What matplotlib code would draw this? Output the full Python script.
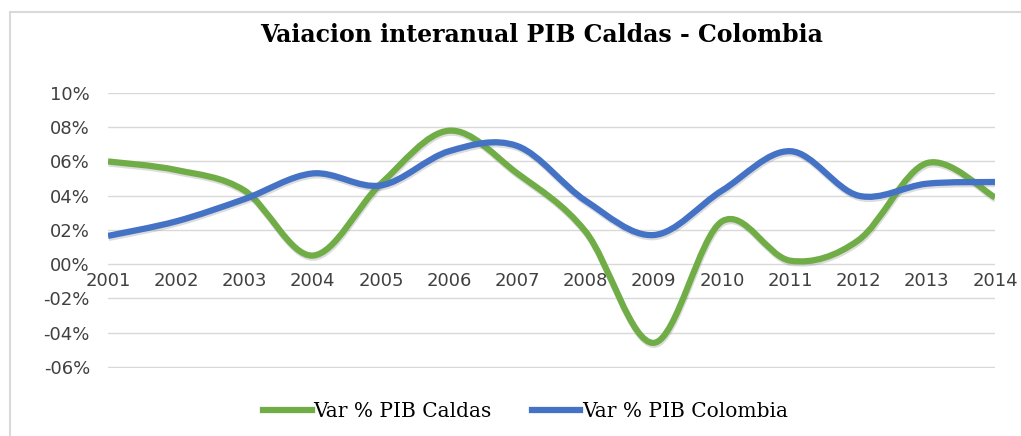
import matplotlib
matplotlib.use('Agg')
import matplotlib.pyplot as plt
from matplotlib.path import Path
from matplotlib.patches import PathPatch, Rectangle
from matplotlib.lines import Line2D
import matplotlib.patheffects as pe
from matplotlib.ticker import FuncFormatter

years = [2001, 2002, 2003, 2004, 2005, 2006, 2007, 2008, 2009, 2010, 2011, 2012, 2013, 2014]
caldas = [0.060, 0.055, 0.043, 0.005, 0.047, 0.078, 0.053, 0.019, -0.046, 0.025, 0.002, 0.014, 0.059, 0.039]
colombia = [0.0165, 0.025, 0.038, 0.053, 0.046, 0.066, 0.069, 0.037, 0.017, 0.043, 0.066, 0.040, 0.047, 0.048]
yticks = [-0.06, -0.04, -0.02, 0.0, 0.02, 0.04, 0.06, 0.08, 0.10]

GREEN = '#70AD47'
BLUE = '#4472C4'


def smooth_path(xs, ys):
    # excel-like smoothed line: cubic bezier segments
    pts = list(zip(xs, ys))
    n = len(pts)
    verts = [pts[0]]
    codes = [Path.MOVETO]
    for i in range(n - 1):
        p0 = pts[max(i - 1, 0)]
        p1 = pts[i]
        p2 = pts[i + 1]
        p3 = pts[min(i + 2, n - 1)]
        c1 = (p1[0] + (p2[0] - p0[0]) / 6, p1[1] + (p2[1] - p0[1]) / 6)
        c2 = (p2[0] - (p3[0] - p1[0]) / 6, p2[1] - (p3[1] - p1[1]) / 6)
        verts += [c1, c2, p2]
        codes += [Path.CURVE4] * 3
    return Path(verts, codes)


fig = plt.figure(figsize=(10.21, 4.36), dpi=100)
ax = fig.add_axes([108 / 1021, 1 - 368 / 436, (995 - 108) / 1021, (368 - 93) / 436])

fig.patches.append(Rectangle((10 / 1021, -0.1), 1.2, 1.0725, transform=fig.transFigure,
                             fill=False, edgecolor='#d9d9d9', lw=1.5))

for yv in yticks:
    ax.axhline(yv, color='#d9d9d9', lw=1, zorder=0)

for vals, col in [(caldas, GREEN), (colombia, BLUE)]:
    patch = PathPatch(smooth_path(years, vals), facecolor='none', edgecolor=col, lw=4.5,
                      capstyle='butt', zorder=3)
    patch.set_path_effects([pe.SimpleLineShadow(offset=(0.5, -1.5), shadow_color='#777777', alpha=0.25),
                            pe.Normal()])
    ax.add_patch(patch)

ax.set_xlim(2001, 2014)
ax.set_ylim(-0.0607, 0.10)
ax.set_yticks(yticks)
ax.yaxis.set_major_formatter(FuncFormatter(lambda v, p: ('-' if v < -1e-9 else '') + '%02d%%' % round(abs(v) * 100)))
ax.set_xticks(years)
ax.set_xticklabels([str(y) for y in years])
ax.patch.set_visible(False)

for s in ['top', 'right', 'left']:
    ax.spines[s].set_visible(False)
ax.spines['bottom'].set_position(('data', 0))
ax.spines['bottom'].set_visible(False)
ax.tick_params(axis='both', length=0, labelsize=13, labelcolor='#404040')
ax.tick_params(axis='y', pad=13)
ax.tick_params(axis='x', pad=6)

fig.text(0.53, 0.92, 'Vaiacion interanual PIB Caldas - Colombia', ha='center', va='center',
         fontsize=17, fontweight='bold', family='DejaVu Serif')

handles = [Line2D([], [], color=GREEN, lw=4.5), Line2D([], [], color=BLUE, lw=4.5)]
fig.legend(handles, ['Var % PIB Caldas', 'Var % PIB Colombia'], loc='center',
           bbox_to_anchor=(0.515, 0.057), ncol=2, frameon=False, handlelength=2.4,
           handletextpad=0.1, columnspacing=2.0, prop={'family': 'DejaVu Serif', 'size': 14.5})

fig.savefig('out.png', dpi=100)
